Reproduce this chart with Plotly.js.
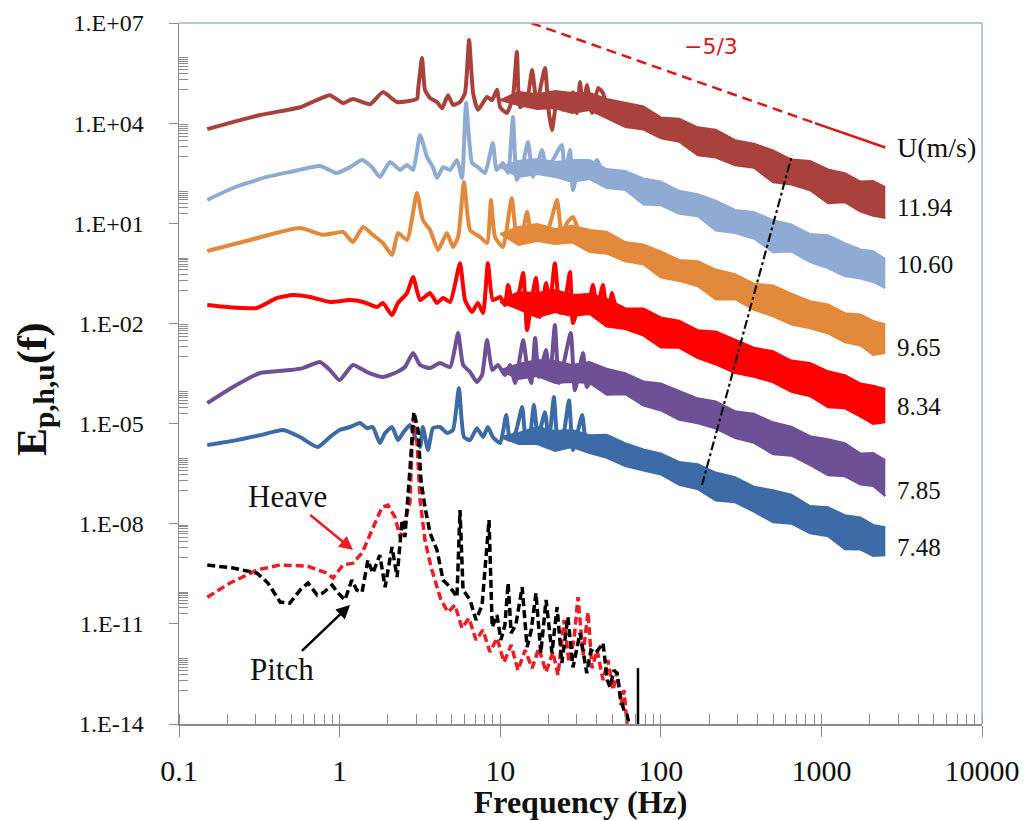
<!DOCTYPE html>
<html>
<head>
<meta charset="utf-8">
<script src="https://cdn.plot.ly/plotly-3.0.1.min.js"></script>
<style>html,body{margin:0;padding:0;background:#fff;}#chart{width:1026px;height:820px;}</style>
</head>
<body>
<div id="chart"></div>
<script>
// ---------- data ----------
const speeds = ['11.94', '10.60', '9.65', '8.34', '7.85', '7.48'];
const colors = ['#a9423d', '#8fabd4', '#e2893c', '#ff0000', '#6e5096', '#3d6ba7'];

// low-frequency part of each velocity spectrum (line with peaks)
const fB = [0.15,0.32,0.57,0.72,0.87,1.05,1.21,1.55,1.86,2.28,3.03,3.08,3.26,3.4,3.66,4.04,4.35,4.73,5.09,5.62,6.04,6.4,6.78,7.28,8.28,8.9,9.55,10.0,11.0,12.0,12.7,13.3,14.7,15.8,16.9,19.0,19.9,21.0,22.6,24.6,28.4,30.1,31.4,32.8,34.7,37.3,40.7,43.6,46.9];
const eB = [6.6e3,1.75e4,3.0e4,4.9e4,6.9e4,4.0e4,5.3e4,3.7e4,8.5e4,4.3e4,5.3e4,1.0e5,9e5,1.0e5,5.6e4,4.3e4,2.8e4,6.9e4,3.5e4,4.3e4,8e4,3.1e6,8e4,2.5e4,6.1e4,4.9e4,1.0e5,3.0e4,2.0e4,6.1e4,1.35e6,3.0e4,4.9e4,3.9e5,4.0e4,4.5e5,3.0e4,6.2e3,4.9e4,2.5e4,8.5e4,2.0e4,1.7e5,2.5e4,1.4e5,2.0e4,1.13e5,8e4,2.0e4];

const fLB = [0.15,0.217,0.353,0.49,0.755,0.96,1.16,1.38,1.59,1.78,2.06,2.38,2.63,2.87,3.17,3.5,3.81,4.04,4.41,4.88,5.38,5.78,6.13,6.68,7.27,8.04,9.0,9.5,10.4,11.2,12.0,12.7,13.7,14.9,16.0,17.2,18.2,19.6,21.3,24.2,25.3,27.2,28.4,31.4,34.6,40.1,43.7];
const eLB = [50,114,245,344,520,320,480,790,480,245,690,395,560,395,4400,970,480,227,480,395,790,227,4.0e4,640,480,320,2540,395,640,320,1.52e4,198,480,2720,245,640,1570,395,790,2210,245,1570,100,640,320,790,245];

const fO = [0.15,0.277,0.567,0.79,1.05,1.21,1.40,1.61,1.86,2.12,2.31,2.63,3.03,3.30,3.66,4.1,4.66,5.08,5.47,5.95,6.49,7.48,8.28,8.76,9.28,10.4,11.8,12.7,13.7,14.7,15.8,17.7,19.8,22.6,24.2,26.0,28.4,31.4,34.6,41.7];
const eO = [1.48,3.16,7.2,4.5,5.5,2.76,7.8,4.5,2.57,1.12,5.1,3.16,81,12.5,6.3,1.59,5.1,1.95,3.9,172,6.3,3.9,2.57,50,3.9,1.95,57,3.9,5.1,21.8,3.9,5.1,6.3,50,3.9,10.2,15.4,5.1,6.3,3.16];

const fR = [0.15,0.2,0.306,0.408,0.513,0.654,0.871,1.16,1.40,1.71,1.86,2.12,2.31,2.63,2.87,3.17,3.66,4.04,4.41,4.88,5.62,6.04,6.68,7.27,7.83,8.38,9.0,10.0,10.7,11.2,12.0,12.9,13.9,14.7,15.8,16.7,17.7,19.3,20.4,21.9,23.6,25.3,27.2,28.4,31.4,34.6,37.8,40.1,43.7,46.4,49.7,53.4];
const eR = [3.56e-2,3.1e-2,2.9e-2,5.8e-2,7.1e-2,6.2e-2,4.4e-2,5.0e-2,4.4e-2,3.1e-2,4.1e-2,1.78e-2,4.1e-2,8.1e-2,2.45e-1,5.0e-2,8.1e-2,4.1e-2,5.8e-2,4.4e-2,6.4e-1,5.0e-2,2.2e-2,4.1e-2,2.05e-2,6.4e-1,5.0e-2,6.2e-2,3.56e-2,1.41e-1,4.1e-2,6.2e-2,3.23e-1,6.3e-3,6.2e-2,2.29e-1,1.55e-2,1.62e-1,4.1e-2,6.4e-1,2.05e-2,4.4e-2,3.46e-1,1.03e-2,4.1e-2,2.05e-2,1.41e-1,2.9e-2,1.41e-1,1.26e-2,8.1e-2,1.55e-2];

const fP = [0.15,0.217,0.32,0.49,0.59,0.755,0.871,1.0,1.21,1.48,1.86,2.28,2.55,2.87,3.17,3.66,4.22,4.88,5.47,5.87,6.49,7.16,7.71,8.28,8.92,9.69,10.7,11.5,12.4,13.9,14.7,15.6,16.5,17.4,19.3,20.4,21.9,23.2,24.9,27.5,29.2,32.8,34.6,37.8,41.7];
const eP = [4.1e-5,1.25e-4,3.27e-4,4.0e-4,4.6e-4,7.0e-4,4.0e-4,2.0e-4,5.7e-4,3.5e-4,2.5e-4,3.5e-4,4.95e-4,1.3e-3,5.7e-4,4.6e-4,6.5e-4,4.95e-4,5.2e-3,5.7e-4,3.5e-4,1.76e-4,2.85e-4,3.19e-3,4.0e-4,5.7e-4,2.85e-4,5.7e-4,1.64e-4,3.19e-3,4.95e-4,1.64e-4,3.66e-3,2.5e-4,1.6e-3,2.0e-4,8.9e-3,1.64e-4,6.5e-4,5.2e-3,1.0e-4,1.3e-3,1.25e-4,2.5e-4,1.64e-4];

const fBl = [0.15,0.23,0.32,0.445,0.567,0.73,0.87,1.0,1.16,1.34,1.48,1.61,1.78,1.92,2.12,2.31,2.48,2.74,2.95,3.17,3.30,3.55,3.81,4.22,4.66,5.08,5.53,5.95,6.49,7.16,7.83,8.38,9.0,10.0,10.9,11.5,12.5,13.7,14.5,15.3,16.2,17.2,19.0,20.1,21.6,22.9,24.6,26.8,28.4,32.4,34.6,40.1];
const eBl = [2.27e-6,3.2e-6,4.5e-6,6.4e-6,3.95e-6,1.98e-6,3.95e-6,6.4e-6,7.9e-6,1.04e-5,7.3e-6,7.9e-6,2.6e-6,5.2e-6,7.9e-6,3.2e-6,5.2e-6,9.0e-6,3.95e-6,1.98e-6,7.9e-6,1.61e-6,7.3e-6,7.9e-6,5.2e-6,6.4e-6,1.16e-4,3.95e-6,3.2e-6,7.3e-6,3.95e-6,7.9e-6,3.95e-6,2.6e-6,1.8e-5,3.2e-6,5.6e-6,3.12e-5,2.6e-6,3.95e-6,3.6e-5,3.95e-6,2.2e-5,2.8e-6,6.2e-5,2.6e-6,3.95e-6,5.0e-5,1.61e-6,1.8e-5,1.98e-6,3.95e-6];

// high-frequency noisy part: upper / lower envelope of each band
const bandF = [10,13,17,22,28,36,46,60,78,100,130,170,220,290,380,500,650,850,1100,1400,1750,2100,2500];
const brownUp = [4.9e4,8.5e4,7.4e4,9.2e4,8.0e4,8.0e4,5.3e4,4.0e4,3.14e4,1.48e4,1.35e4,7.5e3,6.4e3,3.1e3,2.42e3,1.53e3,8.1e2,7.3e2,4.1e2,3.16e2,1.78e2,1.86e2,1.21e2];
const brownLo = [4.9e4,3.5e4,2.64e4,2.83e4,2.0e4,2.47e4,1.42e4,7.6e3,6.4e3,3.5e3,2.76e3,1.09e3,9.3e2,5.5e2,4.6e2,1.69e2,1.44e2,9.8e1,4.0e1,4.3e1,2.25e1,1.67e1,1.44e1];
const lbUp = [4.8e2,7.3e2,8.4e2,6.9e2,7.9e2,7.9e2,4.2e2,3.66e2,2.2e2,1.8e2,9.4e1,7.4e1,4.8e1,2.5e1,2.2e1,1.23e1,9.2,4.75,4.4,2.54,1.64,1.49,0.84];
const lbLo = [4.8e2,2.45e2,3.0e2,2.45e2,1.72e2,2.12e2,1.14e2,9.9e1,3.66e1,3.44e1,1.93e1,1.63e1,6.1,5.1,3.46,1.35,1.42,0.69,0.45,0.259,0.22,0.175,0.114];
const orUp = [4.8,7.8,9.5,6.8,8.6,6.3,5.6,2.74,2.32,1.44,0.80,0.73,0.41,0.30,0.155,0.138,0.078,0.0466,0.0373,0.0202,0.0185,0.0119,0.0095];
const orLo = [4.8,2.24,2.95,2.4,2.66,1.38,1.23,0.73,0.58,0.238,0.188,0.13,0.052,0.053,0.0257,0.0163,0.0092,0.0072,0.005,0.00274,0.00218,0.00114,0.00129];
const redUp = [0.044,0.087,0.081,0.1,0.071,0.076,0.055,0.0287,0.028,0.0151,0.012,0.0063,0.0057,0.00316,0.00187,0.00146,7.7e-4,6.5e-4,3.68e-4,2.81e-4,1.59e-4,1.35e-4,1.08e-4];
const redLo = [0.044,0.027,0.0155,0.022,0.0167,0.0191,0.008,0.0068,0.0043,0.00191,0.00186,9.1e-4,5.9e-4,3.25e-4,2.54e-4,1.72e-4,9.0e-5,6.6e-5,3.06e-5,2.87e-5,1.62e-5,9.7e-6,1.1e-5];
const puUp = [4.0e-4,6.1e-4,8.0e-4,7.5e-4,5.7e-4,7.0e-4,4.4e-4,3.25e-4,1.82e-4,1.6e-4,9.5e-5,5.7e-5,4.56e-5,2.35e-5,1.97e-5,1.09e-5,8.1e-6,4.2e-6,3.37e-6,2.57e-6,1.26e-6,1.32e-6,8.0e-7];
const puLo = [4.0e-4,2.17e-4,2.66e-4,1.64e-4,1.76e-4,1.64e-4,7.3e-5,7.6e-5,3.46e-5,2.47e-5,1.29e-5,1.02e-5,7.1e-6,3.66e-6,2.66e-6,1.2e-6,1.09e-6,5.7e-7,2.81e-7,2.64e-7,1.49e-7,1.35e-7,6.7e-8];
const blUp = [3.95e-6,5.2e-6,7.9e-6,6.0e-6,6.4e-6,4.5e-6,4.6e-6,2.59e-6,1.67e-6,1.27e-6,7.1e-7,6.1e-7,3.41e-7,2.48e-7,1.28e-7,1.0e-7,7.4e-8,3.37e-8,3.1e-8,1.8e-8,1.53e-8,9.2e-9,7.9e-9];
const blLo = [3.95e-6,2.43e-6,2.43e-6,1.5e-6,1.98e-6,1.31e-6,9.4e-7,5.3e-7,3.9e-7,3.0e-7,1.46e-7,1.08e-7,4.95e-8,4.4e-8,2.29e-8,1.1e-8,1.0e-8,5.2e-9,4.2e-9,1.71e-9,1.68e-9,1.08e-9,1.14e-9];

// heave and pitch spectra
const fH = [0.15,0.208,0.306,0.426,0.627,0.836,0.91,1.05,1.21,1.38,1.59,1.84,2.0,2.21,2.38,2.55,2.74,2.87,3.03,3.17,3.40,3.71,4.28,4.73,5.23,5.78,6.39,7.07,7.81,8.64,9.55,10.56,11.7,12.9,14.3,15.8,17.4,19.3,21.3,22.9,25.0,26.8,28.8,30.5,32.8,35.2,37.3,40.1,43.7,46.9,50.4,53.4,56.5,59.0,61.6];
const eH = [6.3e-11,1.67e-10,4.1e-10,5.8e-10,5.4e-10,3.3e-10,2.35e-10,5.8e-10,6.6e-10,1.32e-9,6.4e-9,3.16e-8,3.6e-8,1.59e-8,4.0e-9,1.29e-8,4.2e-8,1.46e-5,3.2e-6,5.1e-8,3.23e-9,5.0e-10,5.2e-11,2.25e-11,3.66e-11,7.5e-12,1.49e-11,3.27e-12,6.5e-12,1.43e-12,3.76e-12,7.1e-13,2.32e-12,4.1e-13,1.64e-12,4.7e-13,1.89e-12,3.6e-13,1.43e-12,2.91e-13,1.3e-11,7.1e-13,3.27e-12,6.3e-11,1.16e-12,2.25e-11,4.7e-13,1.64e-12,2.06e-13,8.2e-13,1.03e-13,3.6e-13,3.7e-14,1.03e-13,1e-14];
const fPi = [0.15,0.217,0.306,0.358,0.426,0.49,0.567,0.636,0.725,0.787,0.898,0.977,1.08,1.19,1.28,1.38,1.50,1.61,1.78,1.92,2.12,2.28,2.45,2.55,2.74,2.9,3.08,3.21,3.40,3.66,4.04,4.41,4.88,5.38,5.62,5.87,6.49,7.07,7.71,8.52,8.92,9.55,10.1,10.7,11.2,11.7,12.5,13.7,14.7,15.6,16.7,17.9,19.3,21.0,22.6,24.2,26.4,28.4,31.4,34.6,36.7,39.4,43.7,46.4,48.3,51.1,53.4,56.5,59.0,61.6,63.4];
const ePi = [5.8e-10,4.7e-10,3.3e-10,1.67e-10,4.5e-11,4.2e-11,1.03e-10,1.67e-10,7.3e-11,8.4e-11,1.45e-10,8.4e-11,5.2e-11,2.05e-10,1.03e-10,8.9e-11,8.1e-10,3.3e-10,1.15e-9,1.26e-10,2.0e-9,2.52e-10,1.29e-8,4.0e-9,4.06e-7,2.21e-5,6.4e-6,2.03e-7,3.16e-8,5.2e-9,1.62e-9,2.05e-10,1.26e-10,6.3e-11,2.57e-8,1.03e-10,5.2e-11,1.3e-11,3.66e-11,1.29e-8,8.0e-12,1.83e-11,3.27e-12,9.2e-12,1.67e-10,5.3e-12,9.2e-12,1.26e-10,2.0e-12,6.5e-12,8.4e-11,1.34e-12,5.2e-11,1.34e-12,3.19e-11,6.7e-13,1.6e-11,5.0e-13,5.3e-12,3.34e-13,1.64e-12,1.34e-12,2.66e-12,2.06e-13,1.27e-13,4.1e-13,3.34e-13,5.2e-14,2.63e-14,1.86e-14,1e-14];
const fSpike = [72.1, 72.1];
const eSpike = [4.7e-13, 1e-14];

// reference lines
const slopeF = [15.6, 913, 2500];       // -5/3 line (dashed, then solid)
const slopeE = [1e7, 1.0e4, 1.87e3];
const ddF = [180.5, 656];               // dash-dot line
const ddE = [1.44e-7, 1.11e3];

const xTickVals = [0.1, 1, 10, 100, 1000, 10000];
const xTickText = ['0.1', '1', '10', '100', '1000', '10000'];
const yTickVals = [1e-14, 1e-11, 1e-8, 1e-5, 1e-2, 1e1, 1e4, 1e7];
const yTickText = ['1.E-14', '1.E-11', '1.E-08', '1.E-05', '1.E-02', '1.E+01', '1.E+04', '1.E+07'];

// ---------- build ----------
const lowF = [fB, fLB, fO, fR, fP, fBl];
const lowE = [eB, eLB, eO, eR, eP, eBl];
const ups = [brownUp, lbUp, orUp, redUp, puUp, blUp];
const los = [brownLo, lbLo, orLo, redLo, puLo, blLo];

const traces = [];
for (let i = 0; i < 6; i++) {
  traces.push({x: bandF, y: ups[i], type: 'scatter', mode: 'lines', line: {color: colors[i], width: 2}, hoverinfo: 'skip', showlegend: false});
  traces.push({x: bandF, y: los[i], type: 'scatter', mode: 'lines', fill: 'tonexty', fillcolor: colors[i], line: {color: colors[i], width: 2}, name: speeds[i] + ' m/s', showlegend: false});
}
for (let i = 0; i < 6; i++) {
  traces.push({x: lowF[i], y: lowE[i], type: 'scatter', mode: 'lines', line: {color: colors[i], width: 4, shape: 'spline', smoothing: 0.5}, name: speeds[i] + ' m/s', showlegend: false});
}
traces.push({x: ddF, y: ddE, type: 'scatter', mode: 'lines', line: {color: '#111', width: 2.2, dash: 'dashdot'}, showlegend: false, hoverinfo: 'skip'});
traces.push({x: slopeF.slice(0, 2), y: slopeE.slice(0, 2), type: 'scatter', mode: 'lines', line: {color: '#d7191c', width: 2.5, dash: '10px,6px'}, showlegend: false, hoverinfo: 'skip'});
traces.push({x: slopeF.slice(1), y: slopeE.slice(1), type: 'scatter', mode: 'lines', line: {color: '#d7191c', width: 2.5}, showlegend: false, hoverinfo: 'skip'});
traces.push({x: fH, y: eH, type: 'scatter', mode: 'lines', name: 'Heave', line: {color: '#ee1c24', width: 3.5, dash: '8px,4px'}, showlegend: false});
traces.push({x: fPi, y: ePi, type: 'scatter', mode: 'lines', name: 'Pitch', line: {color: '#000', width: 3.5, dash: '8px,4px'}, showlegend: false});
traces.push({x: fSpike, y: eSpike, type: 'scatter', mode: 'lines', line: {color: '#000', width: 2.5}, showlegend: false, hoverinfo: 'skip'});

const minorY = [];
[5, 3, 1, -1, -3, -5, -7, -9, -11, -13].forEach(m => {
  for (let k = 1; k <= 9; k++) { if (!(k === 1 && (m === 1 || m === -5 || m === -11))) minorY.push(k * Math.pow(10, m)); }
});
const minorX = [];
[-1, 0, 1, 2, 3].forEach(m => { for (let k = 1; k <= 9; k++) minorX.push(k * Math.pow(10, m)); });
minorX.push(10000);

const axisGrey = '#8c8c8c';
const serif = 'Liberation Serif, Times New Roman, serif';

const annotations = [];
const labelY = [0.7375, 0.6562, 0.5364, 0.4536, 0.3338, 0.2511];
speeds.forEach((s, i) => annotations.push({xref: 'paper', yref: 'paper', x: 0.892, y: labelY[i], xanchor: 'left', yanchor: 'middle', text: s, showarrow: false, font: {family: serif, size: 25, color: '#111'}}));
annotations.push({xref: 'paper', yref: 'paper', x: 0.892, y: 0.8231, xanchor: 'left', yanchor: 'middle', text: 'U(m/s)', showarrow: false, font: {family: serif, size: 28, color: '#111'}});
annotations.push({xref: 'paper', yref: 'paper', x: 0.6625, y: 0.9658, xanchor: 'center', yanchor: 'middle', text: '\u22125/3', showarrow: false, font: {family: 'DejaVu Sans, sans-serif', size: 22, color: '#d7191c'}});
// labelled arrows: text sits at the arrow tail
annotations.push({xref: 'paper', yref: 'paper', x: 0.2167, y: 0.2482, ax: -66, ay: -54, text: 'Heave', showarrow: true, arrowhead: 2, arrowsize: 1.1, arrowwidth: 2.5, arrowcolor: '#ee1c24', font: {family: serif, size: 31, color: '#111'}});
annotations.push({xref: 'paper', yref: 'paper', x: 0.213, y: 0.1698, ax: -68, ay: 65, text: 'Pitch', showarrow: true, arrowhead: 2, arrowsize: 1.1, arrowwidth: 2.5, arrowcolor: '#000', font: {family: serif, size: 31, color: '#111'}});

const layout = {
  width: 1026, height: 820,
  margin: {l: 179, r: 44, t: 23, b: 96},
  paper_bgcolor: '#fff', plot_bgcolor: '#fff',
  showlegend: false,
  xaxis: {
    type: 'log', range: [-1, 4], autorange: false,
    tickmode: 'array', tickvals: xTickVals, ticktext: xTickText,
    ticks: 'outside', ticklen: 11, tickwidth: 1, tickcolor: axisGrey,
    showline: true, linecolor: axisGrey, linewidth: 1.5, showgrid: false, zeroline: false,
    tickfont: {family: serif, size: 30, color: '#111'}, ticklabelstandoff: 8,
    minor: {tickmode: 'array', tickvals: minorX, ticks: 'inside', ticklen: 10, tickwidth: 1, tickcolor: axisGrey, showgrid: false},
    title: {text: '<b>Frequency (Hz)</b>', font: {family: serif, size: 32, color: '#111'}, standoff: 2}
  },
  yaxis: {
    type: 'log', range: [-14, 7], autorange: false,
    tickmode: 'array', tickvals: yTickVals, ticktext: yTickText,
    ticks: 'outside', ticklen: 9, tickwidth: 1, tickcolor: axisGrey,
    showline: true, linecolor: axisGrey, linewidth: 1.5, showgrid: false, zeroline: false,
    tickfont: {family: serif, size: 24, color: '#111'}, ticklabelstandoff: 20,
    minor: {tickmode: 'array', tickvals: minorY, ticks: 'inside', ticklen: 9, tickwidth: 1, tickcolor: axisGrey, showgrid: false},
    title: {text: '<b>E<sub>p,h,u</sub>(f)&nbsp;&nbsp;&nbsp;</b>', font: {family: serif, size: 42, color: '#111'}, standoff: 14}
  },
  shapes: [
    {type: 'line', xref: 'paper', yref: 'paper', x0: 0, x1: 1, y0: 1, y1: 1, line: {color: '#a3b3c6', width: 1.5}},
    {type: 'line', xref: 'paper', yref: 'paper', x0: 1, x1: 1, y0: 0, y1: 1, line: {color: '#a3b3c6', width: 1.5}}
  ],
  annotations: annotations
};

Plotly.newPlot('chart', traces, layout, {displayModeBar: false, staticPlot: true});
</script>
</body>
</html>
